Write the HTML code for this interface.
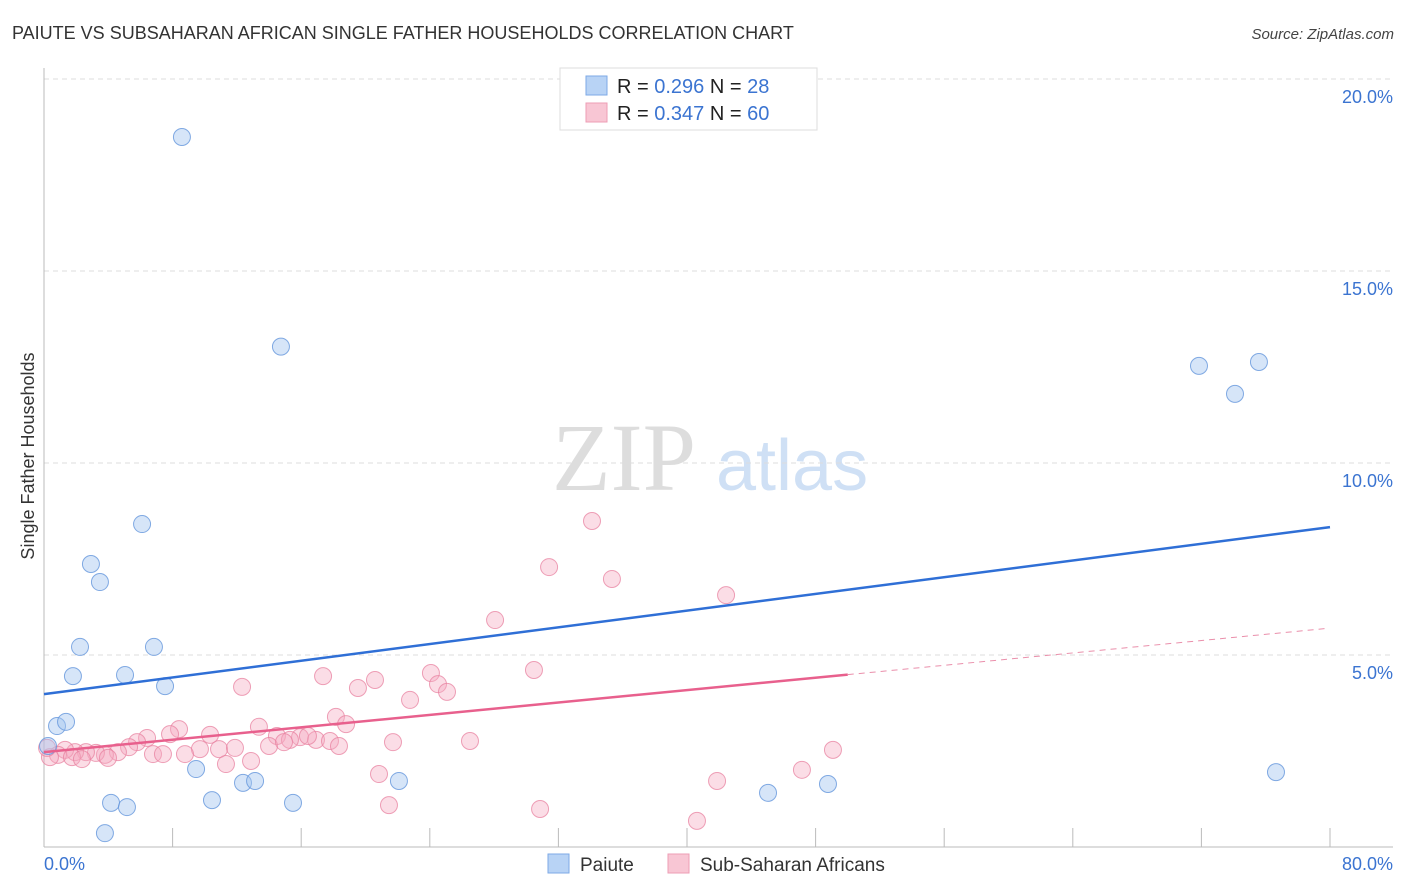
<!DOCTYPE html>
<html><head><meta charset="utf-8"><style>
body{margin:0;background:#fff;font-family:"Liberation Sans",sans-serif}
svg{display:block}
</style></head><body>
<svg id="chart" width="1406" height="892" xmlns="http://www.w3.org/2000/svg">
<text x="12" y="39" font-size="18" fill="#333">PAIUTE VS SUBSAHARAN AFRICAN SINGLE FATHER HOUSEHOLDS CORRELATION CHART</text>
<text x="1394" y="39" font-size="15" fill="#444" font-style="italic" text-anchor="end">Source: ZipAtlas.com</text>
<g>
<text x="552" y="490" font-family="Liberation Serif,serif" font-size="96" fill="#ddd">ZIP</text>
<text x="716" y="490" font-size="72" fill="#cfe0f5">atlas</text>
</g>
<g id="grid"></g>
<g id="axes"></g>
<g id="marks"></g>
<text transform="translate(34,456) rotate(-90)" font-size="18" fill="#333" text-anchor="middle">Single Father Households</text>
<g>
<rect x="560" y="68" width="257" height="62" fill="#fff" stroke="#ddd"/>
<rect x="586" y="76" width="21" height="19" fill="#b8d3f5" stroke="#7ea9e6"/>
<rect x="586" y="103" width="21" height="19" fill="#f8c6d4" stroke="#ee9db5"/>
<text x="617" y="93" font-size="20" fill="#222">R = <tspan fill="#3b74d1">0.296</tspan>   N =  <tspan fill="#3b74d1">28</tspan></text>
<text x="617" y="120" font-size="20" fill="#222">R = <tspan fill="#3b74d1">0.347</tspan>   N = <tspan fill="#3b74d1">60</tspan></text>
</g>
<g>
<rect x="548" y="854" width="21" height="19" fill="#b8d3f5" stroke="#7ea9e6"/>
<text x="580" y="871" font-size="19" fill="#333">Paiute</text>
<rect x="668" y="854" width="21" height="19" fill="#f8c6d4" stroke="#ee9db5"/>
<text x="700" y="871" font-size="19" fill="#333">Sub-Saharan Africans</text>
</g>
</svg>
<script>
const blueX=[8.58,14.74,6.10,2.92,3.48,2.24,6.84,1.80,5.04,7.53,0.81,1.37,0.25,9.46,4.17,5.16,3.79,10.45,12.38,13.13,15.49,22.08,45.04,48.77,71.85,74.09,75.58,76.64];
const blueY=[18.49,13.03,8.41,7.37,6.90,5.21,5.21,4.45,4.48,4.19,3.15,3.26,2.63,2.03,1.15,1.04,0.36,1.22,1.67,1.72,1.15,1.72,1.41,1.64,12.53,11.80,12.63,1.95];
const pinkX=[34.09,31.42,35.33,42.43,28.06,30.48,17.36,12.32,19.53,20.59,24.07,24.51,25.07,22.77,18.16,18.79,8.40,13.37,10.33,6.41,7.84,14.49,15.93,5.79,5.29,4.60,9.70,10.89,11.88,15.30,16.92,16.42,17.79,18.35,14.00,14.93,21.71,26.50,49.08,6.78,7.40,8.77,11.32,12.88,3.79,3.23,2.61,1.93,1.31,0.87,0.37,0.19,1.74,2.36,3.98,20.84,41.87,47.15,21.46,30.86,40.62];
const pinkY=[8.49,7.29,6.98,6.56,5.91,4.61,4.45,4.17,4.14,4.35,4.53,4.24,4.04,3.83,3.39,3.20,3.07,3.13,2.92,2.84,2.94,2.89,2.86,2.73,2.60,2.47,2.55,2.55,2.58,2.79,2.79,2.89,2.76,2.63,2.63,2.73,2.73,2.76,2.53,2.42,2.42,2.42,2.16,2.24,2.40,2.45,2.47,2.47,2.53,2.40,2.34,2.58,2.34,2.29,2.32,1.90,1.72,2.01,1.09,0.99,0.68];
const blueTrend=[3.98,8.33];
const pinkTrend=[2.47,5.70];
const pinkSolidEnd=50;
const yTicks=[5,10,15,20];
const yTickLabels=["5.0%","10.0%","15.0%","20.0%"];
const xTicks=[8,16,24,32,40,48,56,64,72,80];
const xLabels=["0.0%","80.0%"];

const NS="http://www.w3.org/2000/svg";
const sx=v=>44+v*16.075, sy=v=>847-v*38.4;
function mk(tag,attrs,parent){const e=document.createElementNS(NS,tag);for(const k in attrs)e.setAttribute(k,attrs[k]);parent.appendChild(e);return e;}
const grid=document.getElementById('grid'),axes=document.getElementById('axes'),marks=document.getElementById('marks');
yTicks.forEach((t,i)=>{
 const l=mk('line',{x1:44,x2:1393,y1:sy(t),y2:sy(t),stroke:'#ddd','stroke-dasharray':'5,4'},grid);
 
 
 const tx=mk('text',{x:1393,y:sy(t)+24,'font-size':18,fill:'#3b74d1','text-anchor':'end'},axes);
 tx.textContent=yTickLabels[i];
 
 
});
const topl=mk('line',{x1:44,x2:1393,y1:sy(20)+2,y2:sy(20)+2,stroke:'#fff'},grid);
let a=mk('line',{x1:44,x2:44,y1:68,y2:847,stroke:'#bbb'},axes);


a=mk('line',{x1:44,x2:1393,y1:847,y2:847,stroke:'#bbb'},axes);


xTicks.forEach(t=>{
 const l=mk('line',{x1:sx(t),x2:sx(t),y1:828,y2:847,stroke:'#bbb'},axes);
 
 
});
let xl=mk('text',{x:44,y:870,'font-size':18,fill:'#3b74d1'},axes);xl.textContent=xLabels[0];


xl=mk('text',{x:1393,y:870,'font-size':18,fill:'#3b74d1','text-anchor':'end'},axes);xl.textContent=xLabels[1];



pinkX.forEach((x,i)=>{
 const c=mk('circle',{cx:sx(x),cy:sy(pinkY[i]),r:8.5,fill:'rgba(245,170,192,0.4)',stroke:'rgba(232,130,160,0.75)','stroke-width':1},marks);
 
 
});
blueX.forEach((x,i)=>{
 const c=mk('circle',{cx:sx(x),cy:sy(blueY[i]),r:8.5,fill:'rgba(165,198,240,0.45)',stroke:'rgba(100,150,220,0.8)','stroke-width':1},marks);
 
 
});
let t=mk('line',{x1:sx(0),y1:sy(blueTrend[0]),x2:sx(80),y2:sy(blueTrend[1]),stroke:'#2f6fd6','stroke-width':2.5},marks);


const pAt=x=>pinkTrend[0]+(pinkTrend[1]-pinkTrend[0])*x/80;
t=mk('line',{x1:sx(0),y1:sy(pAt(0)),x2:sx(pinkSolidEnd),y2:sy(pAt(pinkSolidEnd)),stroke:'#e8608d','stroke-width':2.5},marks);


t=mk('line',{x1:sx(pinkSolidEnd),y1:sy(pAt(pinkSolidEnd)),x2:sx(79.7),y2:sy(pAt(79.7)),stroke:'#ea8fab','stroke-width':1,'stroke-dasharray':'6,5'},marks);


</script>
</body></html>
